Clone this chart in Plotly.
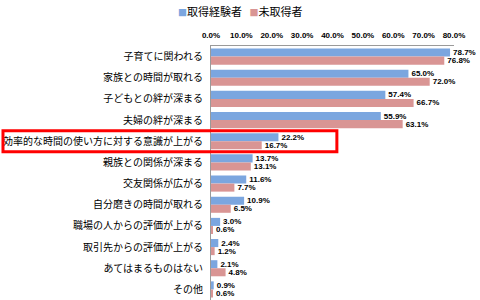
import plotly.graph_objects as go

categories = ["子育てに関われる", "家族との時間が取れる", "子どもとの絆が深まる", "夫婦の絆が深まる",
              "効率的な時間の使い方に対する意識が上がる", "親族との関係が深まる", "交友関係が広がる",
              "自分磨きの時間が取れる", "職場の人からの評価が上がる", "取引先からの評価が上がる",
              "あてはまるものはない", "その他"]
experienced = [78.7, 65.0, 57.4, 55.9, 22.2, 13.7, 11.6, 10.9, 3.0, 2.4, 2.1, 0.9]
not_taken = [76.8, 72.0, 66.7, 63.1, 16.7, 13.1, 7.7, 6.5, 0.6, 1.2, 4.8, 0.6]
series_names = ["取得経験者", "未取得者"]
tick_vals = [0, 10, 20, 30, 40, 50, 60, 70, 80]
tick_text = [f"{v:.1f}%" for v in tick_vals]
highlight = "効率的な時間の使い方に対する意識が上がる"

blue = "#7ba6df"
pink = "#d99594"
colors = [blue, pink]
label_font = dict(family="Liberation Sans", size=8, color="#000000", weight="bold")

fig = go.Figure()
for name, vals, col in [(series_names[0], experienced, blue), (series_names[1], not_taken, pink)]:
    fig.add_trace(go.Bar(
        y=categories, x=vals, name=name, orientation="h",
        marker=dict(color=col, line=dict(width=0)),
        text=[f"{v:.1f}%" for v in vals], textposition="outside",
        constraintext="none", textfont=label_font, cliponaxis=False,
        showlegend=False,
    ))

hi = categories.index(highlight)
fig.add_shape(type="rect", xref="paper", yref="y",
              x0=-0.856, x1=0.518, y0=hi - 0.5, y1=hi + 0.5,
              line=dict(color="#ff0000", width=3), fillcolor="rgba(0,0,0,0)")

legend_text = "   ".join(
    f'<span style="color:{c};font-size:9px">■</span>{n}' for n, c in zip(series_names, colors)
)
fig.add_annotation(text=legend_text, xref="paper", yref="paper", x=(240 - 211) / 243,
                   y=1, yshift=46 - 11, xanchor="center", yanchor="middle", showarrow=False,
                   font=dict(family="Noto Sans CJK JP", size=11, color="#000000"))

fig.update_layout(
    width=480, height=300,
    margin=dict(l=211, r=26, t=46, b=0),
    paper_bgcolor="white", plot_bgcolor="white",
    barmode="group", bargap=0.24, bargroupgap=0,
    font=dict(family="Noto Sans CJK JP", size=10, color="#000000"),
    showlegend=False,
    xaxis=dict(side="top", range=[0, 80], tickvals=tick_vals, ticktext=tick_text,
               showgrid=False, zeroline=False, showline=True, linecolor="#9a9a9a", linewidth=1,
               tickfont=dict(family="Liberation Sans", size=8, color="#000000", weight="bold"),
               ticks="", ticklabelstandoff=4, fixedrange=True),
    yaxis=dict(autorange="reversed", showgrid=False, zeroline=False, showline=True,
               linecolor="#9a9a9a", linewidth=1, ticks="",
               tickfont=dict(family="Noto Sans CJK JP", size=10, color="#000000"),
               ticklabelstandoff=5),
)

fig.write_html("out.html")
